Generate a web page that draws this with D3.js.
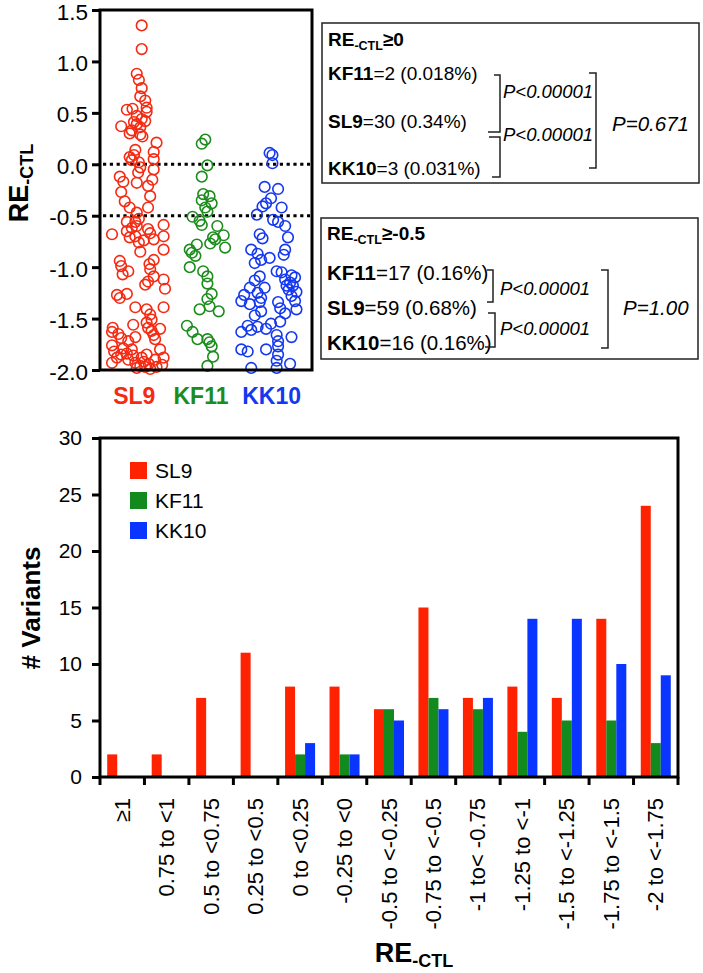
<!DOCTYPE html>
<html><head><meta charset="utf-8">
<script src="https://cdn.jsdelivr.net/npm/d3@7"></script>
<style>
body{margin:0;background:#fff;}
svg{display:block;font-family:"Liberation Sans",Arial,Helvetica,sans-serif;}
</style>
</head><body>
<svg id="chart" width="703" height="973"></svg>
<script>
// ---------- DATA ----------
const scatterCategories = ["SL9", "KF11", "KK10"];
const scatterTicks = [1.5, 1.0, 0.5, 0.0, -0.5, -1.0, -1.5, -2.0];
const thresholdLines = [0, -0.5];
// points: [jitter position within category axis (0..3), RE-CTL value]
const sl9Points = [
[0.59,1.35],[0.59,1.12],
[0.52,0.88],[0.55,0.82],
[0.59,0.74],[0.57,0.66],[0.64,0.62],[0.66,0.55],[0.38,0.53],[0.46,0.54],[0.66,0.51],
[0.52,0.47],[0.59,0.44],[0.64,0.42],[0.30,0.37],[0.52,0.39],[0.57,0.36],[0.42,0.30],[0.57,0.29],[0.48,0.41],[0.45,0.33],[0.60,0.27],
[0.80,0.21],[0.50,0.14],[0.76,0.12],[0.42,0.07],[0.48,0.09],[0.76,0.05],[0.55,0.02],[0.45,0.04],
[0.57,-0.03],[0.54,-0.08],[0.76,-0.05],[0.28,-0.12],[0.33,-0.17],[0.74,-0.15],[0.68,-0.21],[0.52,-0.18],
[0.30,-0.27],[0.35,-0.36],[0.42,-0.42],[0.52,-0.47],[0.71,-0.31],[0.68,-0.42],
[0.17,-0.68],[0.38,-0.56],[0.38,-0.65],[0.50,-0.56],[0.50,-0.70],[0.52,-0.60],[0.68,-0.63],[0.71,-0.67],[0.76,-0.73],[0.90,-0.59],[0.90,-0.70],[0.45,-0.62],[0.55,-0.53],[0.62,-0.74],[0.42,-0.71],
[0.55,-0.76],[0.57,-0.85],[0.90,-0.83],[0.28,-0.94],[0.30,-0.99],[0.76,-0.93],[0.70,-0.97],
[0.32,-1.07],[0.71,-1.02],[0.76,-1.09],[0.68,-1.14],[0.90,-1.12],[0.92,-1.21],[0.64,-1.17],[0.40,-1.04],
[0.24,-1.27],[0.28,-1.30],[0.38,-1.26],[0.50,-1.39],[0.66,-1.41],[0.71,-1.46],[0.90,-1.39],
[0.18,-1.59],[0.17,-1.63],[0.26,-1.65],[0.30,-1.69],[0.47,-1.56],[0.50,-1.68],[0.66,-1.54],[0.68,-1.59],[0.73,-1.62],[0.76,-1.66],[0.78,-1.70],[0.73,-1.51],[0.40,-1.72],[0.85,-1.60],
[0.17,-1.76],[0.20,-1.82],[0.24,-1.88],[0.17,-1.93],[0.30,-1.85],[0.33,-1.79],[0.38,-1.84],[0.40,-1.90],[0.45,-1.80],[0.47,-1.86],[0.50,-1.93],[0.52,-1.98],[0.57,-1.96],[0.59,-1.88],[0.62,-1.92],[0.64,-1.97],[0.66,-1.85],[0.69,-1.94],[0.71,-1.99],[0.78,-1.90],[0.80,-1.97],[0.85,-1.80],[0.88,-1.95],[0.90,-1.88]
];
const kf11Points = [
[1.44,0.20],[1.49,0.24],
[1.52,-0.01],[1.44,-0.12],
[1.46,-0.29],[1.55,-0.31],[1.44,-0.35],[1.58,-0.38],[1.49,-0.42],[1.52,-0.46],
[1.31,-0.51],[1.41,-0.55],[1.44,-0.59],[1.66,-0.60],[1.75,-0.69],[1.60,-0.71],[1.63,-0.73],
[1.37,-0.78],[1.30,-0.86],[1.35,-0.89],[1.27,-0.83],[1.77,-0.81],[1.56,-0.77],
[1.27,-1.00],[1.46,-1.04],[1.52,-1.09],[1.52,-1.16],
[1.58,-1.26],[1.52,-1.31],[1.41,-1.41],[1.55,-1.38],[1.68,-1.43],
[1.23,-1.57],[1.31,-1.63],[1.38,-1.70],[1.52,-1.70],[1.55,-1.73],
[1.60,-1.87],[1.52,-1.96],[1.58,-1.77]
];
const kk10Points = [
[2.40,0.11],[2.44,0.09],[2.44,0.01],
[2.33,-0.22],[2.52,-0.24],
[2.42,-0.33],[2.35,-0.38],[2.30,-0.41],[2.57,-0.42],[2.22,-0.49],
[2.45,-0.54],[2.52,-0.56],[2.26,-0.68],[2.30,-0.72],[2.66,-0.71],[2.62,-0.60],
[2.14,-0.83],[2.23,-0.87],[2.19,-0.96],[2.40,-0.91],[2.62,-0.83],[2.60,-0.88],[2.28,-0.93],
[2.26,-1.09],[2.19,-1.13],[2.33,-1.20],[2.50,-1.04],[2.57,-1.05],[2.71,-1.08],[2.76,-1.10],[2.62,-1.12],[2.69,-1.15],[2.64,-1.18],[2.73,-1.18],[2.67,-1.22],[2.78,-1.24],[2.12,-1.20],
[2.04,-1.27],[2.00,-1.33],[2.12,-1.36],[2.23,-1.25],[2.28,-1.30],[2.26,-1.34],[2.28,-1.43],[2.19,-1.47],[2.52,-1.34],[2.55,-1.40],[2.71,-1.28],[2.76,-1.33],[2.78,-1.41],[2.62,-1.45],
[2.09,-1.57],[2.00,-1.63],[2.14,-1.61],[2.23,-1.58],[2.35,-1.60],[2.42,-1.55],[2.50,-1.66],[2.55,-1.53],[2.71,-1.68],[2.52,-1.72],
[2.00,-1.80],[2.09,-1.82],[2.35,-1.80],[2.52,-1.77],[2.52,-1.85],[2.50,-1.91],[2.69,-1.94],[2.14,-1.98],[2.50,-1.98]
];

const box1Title = "≥0";
const box1Lines = [["KF11", "=2 (0.018%)"], ["SL9", "=30 (0.34%)"], ["KK10", "=3 (0.031%)"]];
const box1PairP = ["P<0.00001", "P<0.00001"];
const box1OuterP = "P=0.671";
const box2Title = "≥-0.5";
const box2Lines = [["KF11", "=17 (0.16%)"], ["SL9", "=59 (0.68%)"], ["KK10", "=16 (0.16%)"]];
const box2PairP = ["P<0.00001", "P<0.00001"];
const box2OuterP = "P=1.00";

const binLabels = ["≥1", "0.75 to <1", "0.5 to <0.75", "0.25 to <0.5", "0 to <0.25", "-0.25 to <0",
  "-0.5 to <-0.25", "-0.75 to <-0.5", "-1 to< -0.75", "-1.25 to <-1", "-1.5 to <-1.25", "-1.75 to <-1.5", "-2 to <-1.75"];
const seriesNames = ["SL9", "KF11", "KK10"];
const sl9Counts  = [2, 2, 7, 11, 8, 8, 6, 15, 7, 8, 7, 14, 24];
const kf11Counts = [0, 0, 0, 0, 2, 2, 6, 7, 6, 4, 5, 5, 3];
const kk10Counts = [0, 0, 0, 0, 3, 2, 5, 6, 7, 14, 14, 10, 9];
const barTicks = [0, 5, 10, 15, 20, 25, 30];

// ---------- STYLE ----------
const pointColors = {SL9: "#f52a12", KF11: "#1c8c1c", KK10: "#1438f0"};
const barColors = {SL9: "#ff2200", KF11: "#138a1e", KK10: "#0a34ff"};

const svg = d3.select("#chart");

// ================= SCATTER PANEL =================
const sp = {left: 100, right: 312, top: 10, bottom: 370};
const yS = d3.scaleLinear().domain([-2, 1.5]).range([sp.bottom, sp.top]);
const xS = d3.scaleLinear().domain([0, 3]).range([sp.left, sp.right]);

const yAx = svg.append("g").attr("transform", `translate(${sp.left},0)`)
  .call(d3.axisLeft(yS).tickValues(scatterTicks).tickFormat(d => d.toFixed(1)).tickSize(8).tickSizeOuter(0).tickPadding(4));
yAx.select(".domain").remove();
yAx.selectAll(".tick line").attr("stroke", "#000").attr("stroke-width", 3);
yAx.selectAll(".tick text").attr("fill", "#000").attr("dy", "0.4em").style("font-size", "22.5px").style("font-family", "inherit");

// dotted threshold lines
svg.append("g").selectAll("line").data(thresholdLines).join("line")
  .attr("x1", sp.left + 3).attr("x2", sp.right - 2)
  .attr("y1", d => yS(d)).attr("y2", d => yS(d))
  .attr("stroke", "#000").attr("stroke-width", 3).attr("stroke-dasharray", "3.2,3.6");

const allPts = [
  ...sl9Points.map(p => ({s: "SL9", x: p[0], y: p[1]})),
  ...kf11Points.map(p => ({s: "KF11", x: p[0], y: p[1]})),
  ...kk10Points.map(p => ({s: "KK10", x: p[0], y: p[1]}))
];
svg.append("g").selectAll("circle").data(allPts).join("circle")
  .attr("cx", d => xS(d.x)).attr("cy", d => yS(d.y)).attr("r", 5.3)
  .attr("fill", "none").attr("stroke", d => pointColors[d.s]).attr("stroke-width", 1.6);

svg.append("rect").attr("x", sp.left).attr("y", sp.top)
  .attr("width", sp.right - sp.left).attr("height", sp.bottom - sp.top)
  .attr("fill", "none").attr("stroke", "#000").attr("stroke-width", 3);

// category labels
svg.append("g").selectAll("text").data(scatterCategories).join("text")
  .attr("x", (d, i) => xS(i + 0.5) - (i === 0 ? 1 : 5)).attr("y", 404)
  .attr("text-anchor", "middle").style("font-size", "23px").style("font-weight", "bold")
  .attr("fill", d => pointColors[d]).text(d => d);

// y title
function reTitle(sel, big, small, extra) {
  sel.append("tspan").text("RE").style("font-size", big + "px");
  sel.append("tspan").text("-CTL").style("font-size", small + "px").attr("dy", big * 0.2);
  if (extra) sel.append("tspan").text(extra).style("font-size", big + "px").attr("dy", -big * 0.2);
}
const yt = svg.append("text").attr("transform", "translate(28,183) rotate(-90)")
  .attr("text-anchor", "middle").style("font-weight", "bold");
reTitle(yt, 27, 18);

// ---------- stat boxes ----------
function statBox(b) {
  const g = svg.append("g");
  g.append("rect").attr("x", b.x).attr("y", b.y).attr("width", b.w).attr("height", b.h)
    .attr("fill", "#fff").attr("stroke", "#222").attr("stroke-width", 1.5);
  const t = g.append("text").attr("x", b.x + 6).attr("y", b.titleY).style("font-weight", "bold");
  reTitle(t, 19, 12.5, b.title);
  b.lines.forEach((ln, i) => {
    const tx = g.append("text").attr("x", b.x + 6).attr("y", b.lineY[i]).style("font-size", b.fs + "px");
    tx.append("tspan").style("font-weight", "bold").text(ln[0]);
    tx.append("tspan").text(ln[1]);
  });
  b.brackets.forEach(br => {
    g.append("path").attr("d", `M${br[0]},${br[2]}H${br[1]}V${br[3]}H${br[4]}`)
      .attr("fill", "none").attr("stroke", "#222").attr("stroke-width", 1.5);
  });
  b.pairP.forEach((p, i) => {
    g.append("text").attr("x", b.pX).attr("y", b.pY[i]).style("font-size", "18.5px").style("font-style", "italic").text(p);
  });
  g.append("path").attr("d", `M${b.big[0]},${b.big[2]}H${b.big[1]}V${b.big[3]}H${b.big[0]}`)
    .attr("fill", "none").attr("stroke", "#222").attr("stroke-width", 1.5);
  g.append("text").attr("x", b.oX).attr("y", b.oY).style("font-size", "20.5px").style("font-style", "italic").text(b.outer);
}
statBox({x: 322, y: 23, w: 377, h: 160, titleY: 46, title: box1Title, lines: box1Lines, fs: 19,
  lineY: [80, 128, 175],
  brackets: [[494, 500, 75, 132, 488], [489, 500, 137, 177, 492]],
  pairP: box1PairP, pX: 503, pY: [98, 141],
  big: [589, 596, 73, 168], outer: box1OuterP, oX: 612, oY: 131});
statBox({x: 321, y: 218, w: 377, h: 141, titleY: 240, title: box2Title, lines: box2Lines, fs: 20.5,
  lineY: [280, 315, 350],
  brackets: [[487, 493, 270, 302, 487], [488, 495, 313, 347, 485]],
  pairP: box2PairP, pX: 500, pY: [295, 335],
  big: [601, 608, 270, 348], outer: box2OuterP, oX: 623, oY: 315});

// ================= BAR PANEL =================
const bp = {left: 100, right: 678, top: 438, bottom: 777};
const x0 = d3.scaleBand().domain(binLabels).range([bp.left, bp.right]).paddingInner(0.325).paddingOuter(0.1625);
const x1 = d3.scaleBand().domain(seriesNames).range([0, x0.bandwidth()]);
const yB = d3.scaleLinear().domain([0, 30]).range([bp.bottom, bp.top]);
const countsBy = {SL9: sl9Counts, KF11: kf11Counts, KK10: kk10Counts};

const barData = [];
binLabels.forEach((b, i) => seriesNames.forEach(s => barData.push({bin: b, s, v: countsBy[s][i]})));
svg.append("g").selectAll("rect").data(barData.filter(d => d.v > 0)).join("rect")
  .attr("x", d => x0(d.bin) + x1(d.s)).attr("width", x1.bandwidth())
  .attr("y", d => yB(d.v)).attr("height", d => yB(0) - yB(d.v))
  .attr("fill", d => barColors[d.s]);

const yBAx = svg.append("g").attr("transform", `translate(${bp.left},0)`)
  .call(d3.axisLeft(yB).tickValues(barTicks).tickFormat(d3.format("d")).tickSize(8).tickSizeOuter(0).tickPadding(10));
yBAx.select(".domain").remove();
yBAx.selectAll(".tick line").attr("stroke", "#000").attr("stroke-width", 3);
yBAx.selectAll(".tick text").attr("fill", "#000").style("font-size", "21px").style("font-family", "inherit");

// boundary ticks on x axis
const bounds = binLabels.map(b => x0(b) - x0.step() * x0.paddingInner() / 2).concat([bp.right]);
svg.append("g").selectAll("line").data(bounds).join("line")
  .attr("x1", d => d).attr("x2", d => d).attr("y1", bp.bottom).attr("y2", bp.bottom + 8)
  .attr("stroke", "#000").attr("stroke-width", 3);

svg.append("rect").attr("x", bp.left).attr("y", bp.top)
  .attr("width", bp.right - bp.left).attr("height", bp.bottom - bp.top)
  .attr("fill", "none").attr("stroke", "#000").attr("stroke-width", 3);

// x labels (rotated)
svg.append("g").selectAll("text").data(binLabels).join("text")
  .attr("transform", d => `translate(${x0(d) + x0.bandwidth() / 2 + 7.5},798) rotate(-90)`)
  .attr("text-anchor", "end").style("font-size", "22px").text(d => d);

// legend
const lg = svg.append("g");
seriesNames.forEach((s, i) => {
  lg.append("rect").attr("x", 130).attr("y", 462 + i * 30).attr("width", 17).attr("height", 17).attr("fill", barColors[s]);
  lg.append("text").attr("x", 155).attr("y", 478 + i * 30).style("font-size", "21px").text(s);
});

// axis titles
svg.append("text").attr("transform", "translate(40,608) rotate(-90)")
  .attr("text-anchor", "middle").style("font-size", "26px").style("font-weight", "bold").text("# Variants");
const xt = svg.append("text").attr("x", 414).attr("y", 962).attr("text-anchor", "middle").style("font-weight", "bold");
reTitle(xt, 27, 18);
</script>
</body></html>
